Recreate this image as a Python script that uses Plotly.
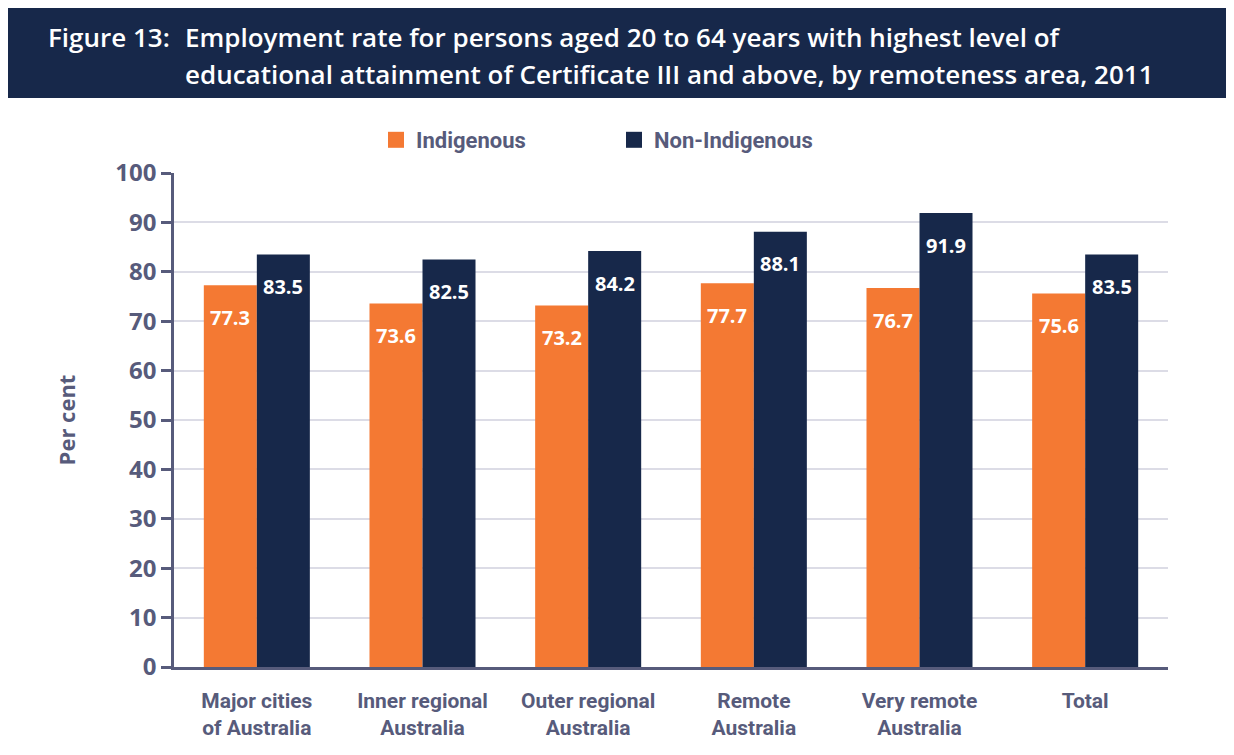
import plotly.graph_objects as go

# data
categories = ['Major cities<br>of Australia', 'Inner regional<br>Australia', 'Outer regional<br>Australia',
              'Remote<br>Australia', 'Very remote<br>Australia', 'Total']
indigenous = [77.3, 73.6, 73.2, 77.7, 76.7, 75.6]
non_indigenous = [83.5, 82.5, 84.2, 88.1, 91.9, 83.5]
y_ticks = [0, 10, 20, 30, 40, 50, 60, 70, 80, 90, 100]

ORANGE = '#f47933'
NAVY = '#17284a'
GREY_TEXT = '#575b7b'

# page body has an 8px margin, so lay out in page pixels minus that
OFF = 8
W, H = 1234 - OFF, 755 - OFF
L, R, T, B = 174 - OFF, 66, 173 - OFF, 88
PW, PH = W - L - R, H - T - B


def px_x(px):
    return (px - OFF - L) / PW


def px_y(py):
    return (H - B - (py - OFF)) / PH


fig = go.Figure()

fig.add_trace(go.Bar(x=categories, y=indigenous, name='Indigenous',
                     marker=dict(color=ORANGE, line=dict(width=0)), showlegend=False))
fig.add_trace(go.Bar(x=categories, y=non_indigenous, name='Non-Indigenous',
                     marker=dict(color=NAVY, line=dict(width=0)), showlegend=False))

# legend entries with bigger squares, one legend each so they can sit apart
fig.add_trace(go.Scatter(x=[None], y=[None], mode='markers', name='Indigenous',
                         marker=dict(symbol='square', size=20, color=ORANGE), legend='legend'))
fig.add_trace(go.Scatter(x=[None], y=[None], mode='markers', name='Non-Indigenous',
                         marker=dict(symbol='square', size=20, color=NAVY), legend='legend2'))

# value labels inside the bars, a little below the top
for series, shift in ((indigenous, -26.5), (non_indigenous, 26.5)):
    for cat, v in zip(categories, series):
        fig.add_annotation(x=cat, y=v, xref='x', yref='y', text=f'{v:.1f}',
                           showarrow=False, xshift=shift, yshift=-32, yanchor='middle',
                           font=dict(family='Open Sans', size=20, color='white', weight='bold'))

# header band
fig.add_shape(type='rect', xref='paper', yref='paper', x0=px_x(7), x1=px_x(1240), y0=px_y(98), y1=px_y(0),
              fillcolor=NAVY, line=dict(width=0), layer='below')

title_font = dict(family='Open Sans', size=26, color='white', weight=600)
fig.add_annotation(xref='paper', yref='paper', x=px_x(46), y=px_y(37), xanchor='left', yanchor='middle',
                   text='Figure 13:', showarrow=False, font=title_font)
fig.add_annotation(xref='paper', yref='paper', x=px_x(183), y=px_y(37), xanchor='left', yanchor='middle',
                   text='Employment rate for persons aged 20 to 64 years with highest level of',
                   showarrow=False, font=title_font)
fig.add_annotation(xref='paper', yref='paper', x=px_x(183), y=px_y(74), xanchor='left', yanchor='middle',
                   text='educational attainment of Certificate III and above, by remoteness area, 2011',
                   showarrow=False, font=title_font)

legend_font = dict(family='Roboto', size=22, color=GREY_TEXT, weight='bold')

fig.update_layout(
    width=W, height=H,
    margin=dict(l=L, r=R, t=T, b=B),
    paper_bgcolor='white',
    plot_bgcolor='white',
    barmode='group',
    bargap=0.36,
    bargroupgap=0,
    legend=dict(x=px_x(376), y=px_y(140), xanchor='left', yanchor='middle',
                orientation='h', font=legend_font, bgcolor='rgba(0,0,0,0)'),
    legend2=dict(x=px_x(614), y=px_y(140), xanchor='left', yanchor='middle',
                 orientation='h', font=legend_font, bgcolor='rgba(0,0,0,0)'),
    yaxis=dict(
        range=[0, 100], tickvals=y_ticks,
        showgrid=True, gridcolor='#dcdce6', gridwidth=1.5,
        showline=True, linecolor=GREY_TEXT, linewidth=2.5,
        ticks='outside', ticklen=10, tickwidth=2.5, tickcolor=GREY_TEXT,
        tickfont=dict(family='Open Sans', size=24, color=GREY_TEXT, weight='bold'),
        title=dict(text='Per cent', standoff=34,
                   font=dict(family='Open Sans', size=22, color=GREY_TEXT, weight='bold')),
        zeroline=False,
    ),
    xaxis=dict(
        showline=True, linecolor=GREY_TEXT, linewidth=2.5,
        ticks='', ticklabelstandoff=13,
        tickfont=dict(family='Roboto', size=21, color=GREY_TEXT, weight='bold'),
    ),
)

fig.write_html("out.html")
